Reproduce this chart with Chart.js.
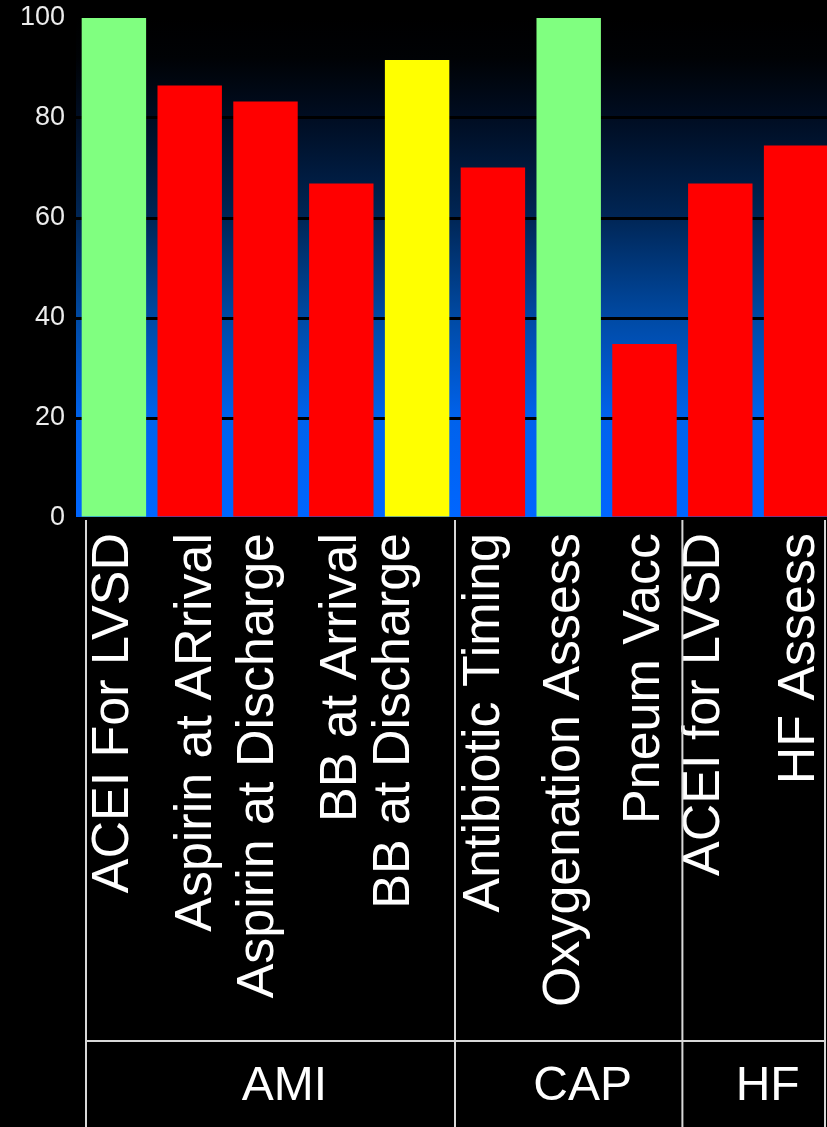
<!DOCTYPE html>
<html>
<head>
<meta charset="utf-8">
<script src="https://cdn.jsdelivr.net/npm/chart.js@4.4.1/dist/chart.umd.min.js"></script>
<style>
    html, body { margin: 0; padding: 0; background: #000; overflow: hidden; }
    #wrap { width: 834px; height: 1127px; }
</style>
</head>
<body>
<div id="wrap"><canvas id="grafico" width="834" height="1127"></canvas></div>
<script>
// ───── DADOS ─────
const medidas = [
    "ACEI For LVSD", "Aspirin at ARrival", "Aspirin at Discharge", "BB at Arrival", "BB at Discharge",
    "Antibiotic Timing", "Oxygenation Assess", "Pneum Vacc",
    "ACEI for LVSD", "HF Assess"
];
const taxas      = [100, 86.5, 83.3, 66.9, 91.6, 70.1, 100, 34.8, 66.9, 74.5];
const grupos     = ["AMI", "CAP", "HF"];
const grupoQtd   = [5, 3, 2];
const yTicks     = [0, 20, 40, 60, 80, 100];

// ajustes finos de posição dos rótulos (px)
const rotuloDesloc = [0, 7, -7, 0, -22, -8, -4, 0, -16, 4];
const FONTE = '"Liberation Sans", Arial, sans-serif';

function corTaxa(v) {
    if (v >= 95) return "#80ff80";
    if (v >= 90) return "#ffff00";
    return "#ff0000";
}

// fundo degradê da área do gráfico
const fundoPlugin = {
    id: "fundo",
    beforeDraw(chart) {
        const { ctx, chartArea: a } = chart;
        const g = ctx.createLinearGradient(0, a.top, 0, a.bottom);
        g.addColorStop(0.00, "#000000");
        g.addColorStop(0.08, "#000205");
        g.addColorStop(0.20, "#000d22");
        g.addColorStop(0.40, "#002656");
        g.addColorStop(0.60, "#004aa4");
        g.addColorStop(0.80, "#0062ec");
        g.addColorStop(1.00, "#0066ff");
        ctx.save();
        ctx.fillStyle = g;
        ctx.fillRect(a.left, a.top, a.right - a.left, a.bottom - a.top);
        ctx.restore();
    }
};

// rótulos verticais + tabela de grupos embaixo
const tabelaPlugin = {
    id: "tabela",
    afterDraw(chart) {
        const { ctx, chartArea: a, scales } = chart;
        const x = scales.x;
        const H = chart.height;
        const yLinha = 1041;

        ctx.save();
        ctx.fillStyle = "#ffffff";
        ctx.font = "52px " + FONTE;
        ctx.textAlign = "right";
        ctx.textBaseline = "middle";
        medidas.forEach((m, i) => {
            ctx.save();
            ctx.translate(x.getPixelForValue(i) + rotuloDesloc[i], a.bottom + 15);
            ctx.rotate(-Math.PI / 2);
            ctx.fillText(m, 0, 0);
            ctx.restore();
        });

        // divisórias
        const esq = a.left + 10, dir = a.right - 9;
        const cortes = [esq];
        let acc = 0;
        grupoQtd.forEach((q, gi) => {
            acc += q;
            cortes.push(gi === grupoQtd.length - 1 ? dir : x.getPixelForValue(acc - 0.5));
        });
        ctx.strokeStyle = "#d8d8d8";
        ctx.lineWidth = 2;
        ctx.beginPath();
        cortes.forEach(cx => { ctx.moveTo(cx, a.bottom + 2); ctx.lineTo(cx, H); });
        ctx.moveTo(esq, yLinha); ctx.lineTo(dir, yLinha);
        ctx.stroke();

        // nomes dos grupos
        ctx.font = "48px " + FONTE;
        ctx.textAlign = "center";
        ctx.textBaseline = "alphabetic";
        grupos.forEach((g, gi) => {
            const cx = (cortes[gi] + cortes[gi + 1]) / 2 + 14;
            ctx.fillText(g, cx, 1100);
        });
        ctx.restore();
    }
};

new Chart(document.getElementById("grafico").getContext("2d"), {
    type: "bar",
    data: {
        labels: medidas,
        datasets: [{
            data: taxas,
            backgroundColor: taxas.map(corTaxa),
            borderWidth: 0,
            barPercentage: 0.85,
            categoryPercentage: 1.0,
        }]
    },
    options: {
        responsive: false,
        animation: false,
        layout: { padding: { top: 18, left: 0, right: 0, bottom: 0 } },
        plugins: { legend: { display: false }, tooltip: { enabled: false } },
        scales: {
            x: {
                grid: { display: false },
                border: { display: false },
                ticks: { display: false },
                afterFit: s => { s.height = 609; }
            },
            y: {
                min: 0, max: 100,
                afterBuildTicks: s => { s.ticks = yTicks.map(v => ({ value: v })); },
                grid: { color: "#000000", lineWidth: 3, drawTicks: false },
                border: { display: false },
                ticks: { color: "#ececec", padding: 11, font: { family: FONTE, size: 27 } },
                afterFit: s => { s.width = 76; s.paddingTop = 0; s.paddingBottom = 0; }
            }
        }
    },
    plugins: [fundoPlugin, tabelaPlugin]
});
</script>
</body>
</html>
